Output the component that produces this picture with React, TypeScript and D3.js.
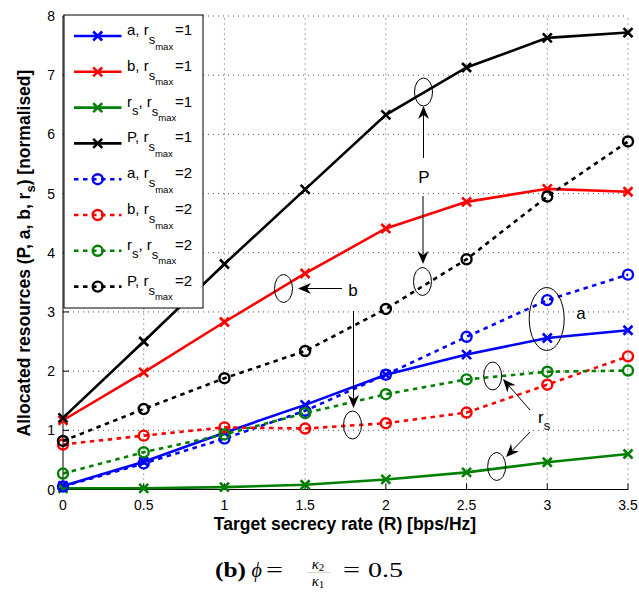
import React from "react";
import * as d3 from "d3";

// Target secrecy rate R [bps/Hz]
const rates = [0, 0.5, 1, 1.5, 2, 2.5, 3, 3.5];

// Allocated resources with r_s,max = 1
const a1 = [0.06, 0.47, 0.96, 1.43, 1.94, 2.28, 2.56, 2.69];
const b1 = [1.17, 1.98, 2.83, 3.65, 4.41, 4.86, 5.08, 5.03];
const rs1 = [0.02, 0.02, 0.04, 0.08, 0.17, 0.29, 0.46, 0.6];
const P1 = [1.21, 2.5, 3.81, 5.07, 6.33, 7.13, 7.63, 7.72];

// Allocated resources with r_s,max = 2
const a2 = [0.05, 0.44, 0.86, 1.33, 1.94, 2.58, 3.2, 3.63];
const b2 = [0.76, 0.91, 1.05, 1.03, 1.12, 1.3, 1.77, 2.25];
const rs2 = [0.27, 0.63, 0.93, 1.29, 1.61, 1.86, 1.99, 2.01];
const P2 = [0.82, 1.36, 1.88, 2.34, 3.05, 3.89, 4.95, 5.88];

const xTicks = [0, 0.5, 1, 1.5, 2, 2.5, 3, 3.5];
const yTicks = [0, 1, 2, 3, 4, 5, 6, 7, 8];

type Series = { name: string; rmax: number; values: number[]; color: string; dashed: boolean };

const series: Series[] = [
  { name: "a", rmax: 1, values: a1, color: "#0000ff", dashed: false },
  { name: "b", rmax: 1, values: b1, color: "#ff0000", dashed: false },
  { name: "rs", rmax: 1, values: rs1, color: "#008000", dashed: false },
  { name: "P", rmax: 1, values: P1, color: "#000000", dashed: false },
  { name: "a", rmax: 2, values: a2, color: "#0000ff", dashed: true },
  { name: "b", rmax: 2, values: b2, color: "#ff0000", dashed: true },
  { name: "rs", rmax: 2, values: rs2, color: "#008000", dashed: true },
  { name: "P", rmax: 2, values: P2, color: "#000000", dashed: true },
];

const W = 639;
const H = 592;
const sans = "'Liberation Sans', Arial, Helvetica, sans-serif";
const serif = "'Liberation Serif', 'DejaVu Serif', serif";

const x = d3.scaleLinear().domain([0, 3.5]).range([63, 628]);
const y = d3.scaleLinear().domain([0, 8]).range([489.5, 16]);

function Cross({ cx, cy, color }: { cx: number; cy: number; color: string }) {
  const s = 4.5;
  return (
    <path
      d={`M${cx - s},${cy - s}L${cx + s},${cy + s}M${cx - s},${cy + s}L${cx + s},${cy - s}`}
      stroke={color}
      strokeWidth={2.6}
      fill="none"
    />
  );
}

function Ring({ cx, cy, color }: { cx: number; cy: number; color: string }) {
  return <circle cx={cx} cy={cy} r={5} stroke={color} strokeWidth={2.4} fill="none" />;
}

function Marker({ s, cx, cy }: { s: Series; cx: number; cy: number }) {
  return s.dashed ? <Ring cx={cx} cy={cy} color={s.color} /> : <Cross cx={cx} cy={cy} color={s.color} />;
}

function LegendLabel({ s, tx, ty }: { s: Series; tx: number; ty: number }) {
  const head =
    s.name === "rs" ? (
      <>
        <tspan>r</tspan>
        <tspan dy={8} fontSize={13}>s</tspan>
        <tspan dy={-8}>, r</tspan>
      </>
    ) : (
      <tspan>{s.name}, r</tspan>
    );
  return (
    <g fontFamily={sans} fill="#000">
      <text x={tx} y={ty} fontSize={15}>
        {head}
        <tspan dy={9} fontSize={13}>s</tspan>
        <tspan dy={5.5} fontSize={9.5}>max</tspan>
      </text>
      <text x={175} y={ty} fontSize={15}>
        ={s.rmax}
      </text>
    </g>
  );
}

function Arrow({ x1, y1, x2, y2 }: { x1: number; y1: number; x2: number; y2: number }) {
  const ang = Math.atan2(y2 - y1, x2 - x1);
  const len = 13;
  const half = 5.5;
  const bx = x2 - len * Math.cos(ang);
  const by = y2 - len * Math.sin(ang);
  const nx = -Math.sin(ang);
  const ny = Math.cos(ang);
  const ix = x2 - len * 0.7 * Math.cos(ang);
  const iy = y2 - len * 0.7 * Math.sin(ang);
  return (
    <g>
      <line x1={x1} y1={y1} x2={ix} y2={iy} stroke="#000" strokeWidth={1} />
      <path
        d={`M${x2},${y2}L${bx + nx * half},${by + ny * half}L${ix},${iy}L${bx - nx * half},${by - ny * half}Z`}
        fill="#000"
      />
    </g>
  );
}

function Ellipse({ cx, cy, rx = 9, ry = 14 }: { cx: number; cy: number; rx?: number; ry?: number }) {
  return <ellipse cx={cx} cy={cy} rx={rx} ry={ry} fill="none" stroke="#000" strokeWidth={1} />;
}

export default function App() {
  const line = d3
    .line<number>()
    .x((_, i) => x(rates[i]))
    .y((d) => y(d));

  const [x0, x1] = x.range();
  const [y0, y1] = y.range();

  const legX = 64;
  const legY = 15;
  const legW = 139;
  const legH = 293;
  const rowY = (i: number) => 36 + i * 35.8;

  return (
    <svg width={W} height={H} viewBox={`0 0 ${W} ${H}`} style={{ display: "block", position: "absolute", left: 0, top: 0 }}>
      <rect width={W} height={H} fill="#fff" />

      {/* dotted grid */}
      <g stroke="#555" strokeWidth={1} strokeDasharray="1,4">
        {xTicks.slice(1).map((t) => (
          <line key={`gx${t}`} x1={x(t)} x2={x(t)} y1={y0} y2={y1} />
        ))}
        {yTicks.slice(1).map((t) => (
          <line key={`gy${t}`} x1={x0} x2={x1} y1={y(t)} y2={y(t)} />
        ))}
      </g>

      {/* axes */}
      <g stroke="#000" strokeWidth={1}>
        <line x1={x0} x2={x1} y1={y0} y2={y0} />
        <line x1={x0} x2={x0} y1={y0} y2={y1} />
        {xTicks.map((t) => (
          <line key={`tx${t}`} x1={x(t)} x2={x(t)} y1={y0} y2={y0 - 6} />
        ))}
        {yTicks.map((t) => (
          <line key={`ty${t}`} x1={x0} x2={x0 + 6} y1={y(t)} y2={y(t)} />
        ))}
      </g>
      <g fontFamily={sans} fontSize={14} fill="#000">
        {xTicks.map((t) => (
          <text key={`lx${t}`} x={x(t)} y={y0 + 20} textAnchor="middle">
            {String(t)}
          </text>
        ))}
        {yTicks.map((t) => (
          <text key={`ly${t}`} x={x0 - 8} y={y(t) + 5} textAnchor="end">
            {String(t)}
          </text>
        ))}
      </g>

      {/* axis titles */}
      <text x={345} y={530} textAnchor="middle" fontFamily={sans} fontSize={17.5} fontWeight="bold">
        Target secrecy rate (R) [bps/Hz]
      </text>
      <text
        transform="translate(30,253) rotate(-90)"
        textAnchor="middle"
        fontFamily={sans}
        fontSize={17.5}
        fontWeight="bold"
      >
        Allocated resources (P, a, b, r<tspan dy={5} fontSize={13}>s</tspan>
        <tspan dy={-5}>) [normalised]</tspan>
      </text>

      {/* series */}
      {series.map((s, k) => (
        <g key={`s${k}`}>
          <path
            d={line(s.values) ?? ""}
            fill="none"
            stroke={s.color}
            strokeWidth={2.6}
            strokeDasharray={s.dashed ? "4.5,4.5" : undefined}
          />
          {s.values.map((v, i) => (
            <Marker key={i} s={s} cx={x(rates[i])} cy={y(v)} />
          ))}
        </g>
      ))}

      {/* annotations */}
      <Ellipse cx={423.5} cy={92} />
      <Arrow x1={423.5} y1={158} x2={423.5} y2={106} />
      <text x={424} y={183} textAnchor="middle" fontFamily={sans} fontSize={17}>P</text>
      <Arrow x1={423} y1={196} x2={423} y2={264} />
      <Ellipse cx={422.5} cy={281.5} />

      <Ellipse cx={283.5} cy={288.5} />
      <Arrow x1={342} y1={288.5} x2={298} y2={288.5} />
      <text x={353} y={296} textAnchor="middle" fontFamily={sans} fontSize={17}>b</text>
      <Arrow x1={353.5} y1={311} x2={353.5} y2={408} />
      <Ellipse cx={352.5} cy={425} />

      <Ellipse cx={546.7} cy={319} rx={17.5} ry={31.5} />
      <text x={581} y={319} textAnchor="middle" fontFamily={sans} fontSize={17}>a</text>

      <Ellipse cx={492.7} cy={376} />
      <Ellipse cx={496.7} cy={466.5} />
      <Arrow x1={530} y1={410} x2={503} y2={379} />
      <Arrow x1={530} y1={432} x2={506} y2={457} />
      <text x={538} y={423} fontFamily={sans} fontSize={17}>
        r<tspan dy={7} fontSize={13}>s</tspan>
      </text>

      {/* legend */}
      <rect x={legX} y={legY} width={legW} height={legH} fill="#fff" stroke="#000" strokeWidth={1} />
      {series.map((s, i) => {
        const ly = rowY(i);
        return (
          <g key={`lg${i}`}>
            <line
              x1={74}
              x2={121.5}
              y1={ly}
              y2={ly}
              stroke={s.color}
              strokeWidth={2.6}
              strokeDasharray={s.dashed ? "4.5,4.5" : undefined}
            />
            <Marker s={s} cx={97.7} cy={ly} />
            <LegendLabel s={s} tx={127} ty={ly - 1} />
          </g>
        );
      })}

      {/* caption */}
      <g fontFamily={serif} fill="#000">
        <text x={215} y={577} fontSize={22} fontWeight="bold" textLength={31} lengthAdjust="spacingAndGlyphs">
          (b)
        </text>
        <text x={251.5} y={577} fontSize={20} fontStyle="italic">ϕ</text>
        <text x={266} y={577} fontSize={22} textLength={17} lengthAdjust="spacingAndGlyphs">=</text>
        <text x={318} y={568.5} textAnchor="middle" fontSize={15} fontStyle="italic">
          κ<tspan fontStyle="normal" fontSize={11} dy={2}>2</tspan>
        </text>
        <line x1={307} x2={330} y1={572.5} y2={572.5} stroke="#bbb" strokeWidth={0.6} />
        <text x={318} y={585.5} textAnchor="middle" fontSize={15} fontStyle="italic">
          κ<tspan fontStyle="normal" fontSize={11} dy={2}>1</tspan>
        </text>
        <text x={343} y={577} fontSize={22} textLength={17} lengthAdjust="spacingAndGlyphs">=</text>
        <text x={368} y={577} fontSize={22} textLength={35} lengthAdjust="spacingAndGlyphs">0.5</text>
      </g>
    </svg>
  );
}
